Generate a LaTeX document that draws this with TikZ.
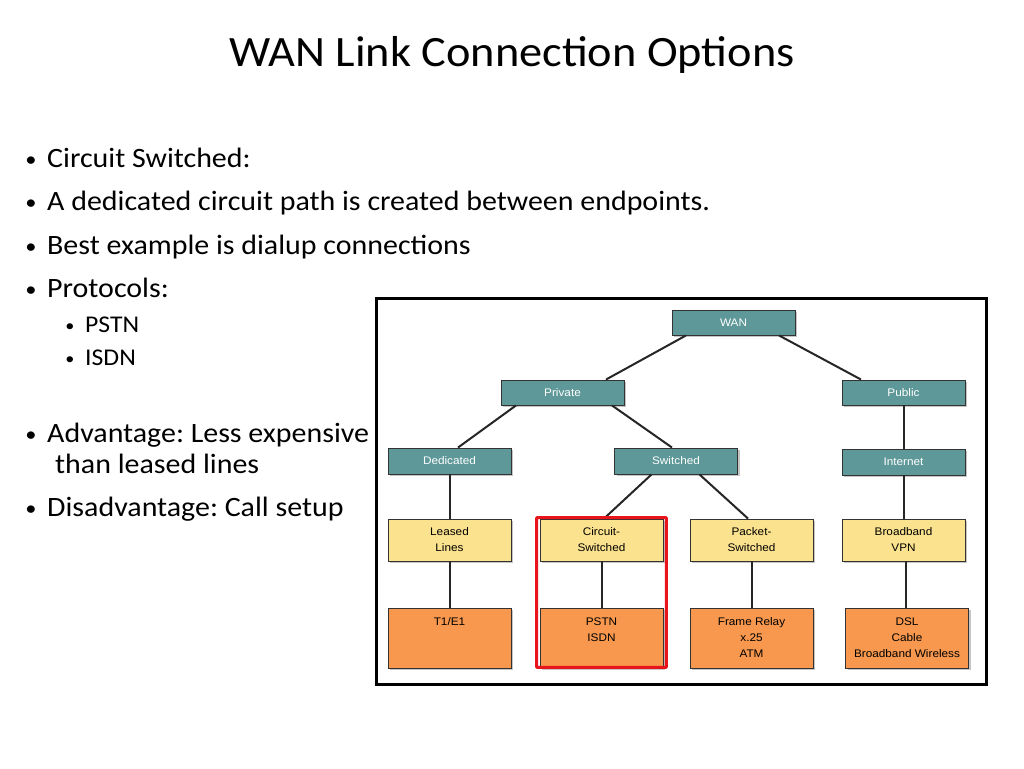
\documentclass[tikz,border=0pt]{standalone}
\usepackage{fontspec}
\setmainfont{Carlito}[FakeStretch=1.07]
\newfontfamily\boxfont{Liberation Sans}[FakeStretch=1.07]
\usetikzlibrary{shadows}
\frenchspacing

\definecolor{wanteal}{RGB}{94,152,152}
\definecolor{wanyellow}{RGB}{251,226,142}
\definecolor{wanorange}{RGB}{247,152,78}
\definecolor{wanred}{RGB}{232,22,28}

\begin{document}
\begin{tikzpicture}[x=1pt, y=-1pt,
        lvl/.style={draw=black!80, line width=0.9pt, minimum width=123pt, inner sep=0pt, align=center,
            font=\boxfont\fontsize{11}{16}\selectfont,
            drop shadow={shadow xshift=2pt, shadow yshift=-2pt, opacity=.45}},
        tealbox/.style={lvl, fill=wanteal, text=white, minimum height=25pt},
        yellowbox/.style={lvl, fill=wanyellow, minimum height=42pt},
        orangebox/.style={lvl, fill=wanorange, minimum height=60pt},
        link/.style={line width=2pt, black!85},
        item/.style={anchor=base west, inner sep=0pt, font=\fontsize{28}{32}\selectfont},
        subitem/.style={item, font=\fontsize{24}{28}\selectfont},
        dot/.style={anchor=base, inner sep=0pt}]
        \useasboundingbox (0, 0) rectangle (1024, 768);
        \fill[white] (0, 0) rectangle (1024, 768);

        \node (title) at (512, 55) {\fontsize{43.3}{50}\selectfont WAN Link Connection Options};

        \foreach \yy/\txt [count=\i] in {167/{Circuit Switched:}, 210.5/{A dedicated circuit path is created between endpoints.},
                254/{Best example is dialup connections}, 297.5/{Protocols:}, 442/{Advantage: Less expensive}, 516/{Disadvantage: Call setup}}
            \node[item] (item\i) at (47, \yy) {\txt} node[dot, font=\fontsize{21}{24}\selectfont] (dot\i) at (31, \yy-1) {\textbullet};
        \node[item] (itemcont) at (55, 473) {than leased lines};
        \foreach \yy/\txt [count=\i] in {332/PSTN, 365/ISDN}
            \node[subitem] (sub\i) at (85, \yy) {\txt} node[dot, font=\fontsize{17}{20}\selectfont] (subdot\i) at (70, \yy-1) {\textbullet};

        \draw[line width=3pt] (376, 298) rectangle (986, 684);

        \node[tealbox] (wan) at (733.5, 322.5) {WAN};
        \node[tealbox] (private) at (562.5, 392.5) {Private};
        \node[tealbox] (public) at (903.5, 392.5) {Public};
        \node[tealbox, minimum height=26pt] (dedicated) at (449.5, 461) {Dedicated};
        \node[tealbox, minimum height=26pt] (switched) at (676, 461) {Switched};
        \node[tealbox, minimum height=26pt] (internet) at (903.5, 462) {Internet};

        \node[yellowbox] (leased) at (449.5, 540) {Leased\\Lines};
        \node[yellowbox] (circuit) at (601.5, 540) {Circuit-\\Switched};
        \node[yellowbox] (packet) at (751.5, 540) {Packet-\\Switched};
        \node[yellowbox] (broadband) at (903.5, 540) {Broadband\\VPN};

        \node[orangebox] (tone) at (449.5, 638) {T1/E1\\~\\~};
        \node[orangebox] (pstn) at (601.5, 638) {PSTN\\ISDN\\~};
        \node[orangebox] (frame) at (751.5, 638) {Frame Relay\\x.25\\ATM};
        \node[orangebox] (dsl) at (907, 638) {DSL\\Cable\\Broadband Wireless};

        \draw[link] ([xshift=-47.5pt]wan.south) -- ([xshift=43.5pt]private.north);
        \draw[link] ([xshift=45.5pt]wan.south) -- ([xshift=-42.5pt]public.north);
        \draw[link] ([xshift=-46.5pt]private.south) -- ([xshift=8.5pt]dedicated.north);
        \draw[link] ([xshift=49.5pt]private.south) -- ([xshift=-4pt]switched.north);
        \draw[link] ([xshift=-24.5pt]switched.south) -- ([xshift=2.5pt]circuit.north);
        \draw[link] ([xshift=23.5pt]switched.south) -- ([xshift=-3.5pt]packet.north);
        \draw[link] (public) -- (internet);
        \draw[link] (dedicated) -- (leased);
        \draw[link] (internet) -- (broadband);
        \draw[link] (leased) -- (tone);
        \draw[link] (circuit) -- (pstn);
        \draw[link] (packet) -- (packet |- frame.north);
        \draw[link] ([xshift=2pt]broadband.south) -- ([xshift=-1.5pt]dsl.north);

        \draw[wanred, line width=3pt, rounded corners=1pt] ([xshift=-3pt, yshift=1pt]circuit.north west) rectangle ([xshift=3pt, yshift=1pt]pstn.south east);
    \end{tikzpicture}
\end{document}
